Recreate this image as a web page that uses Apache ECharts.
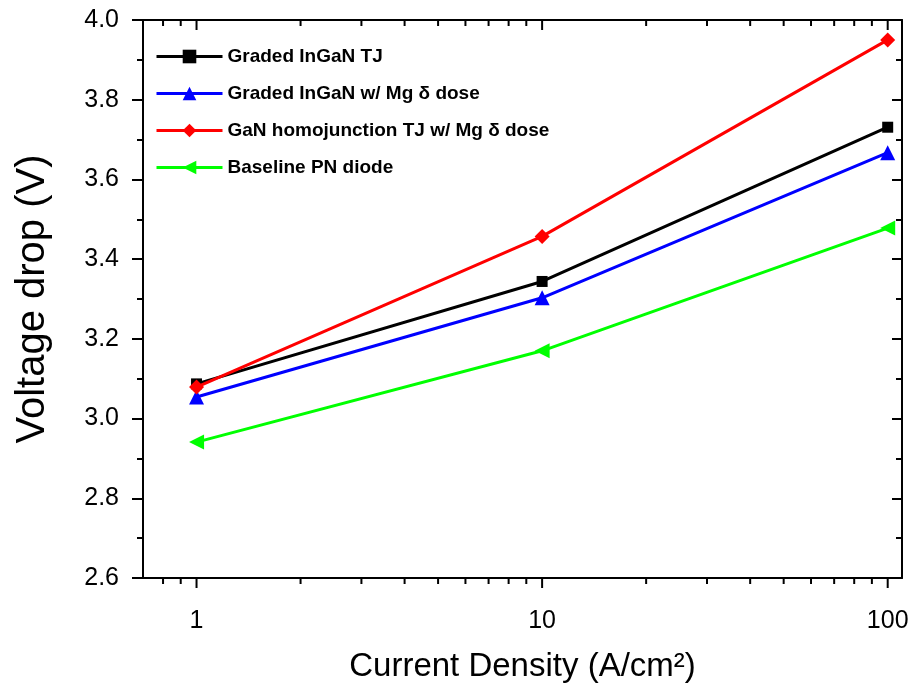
<!DOCTYPE html>
<html>
<head>
<meta charset="utf-8">
<script src="https://cdn.jsdelivr.net/npm/echarts@6/dist/echarts.min.js"></script>
<style>
html,body{margin:0;padding:0;background:#fff;}
#chart{width:914px;height:688px;}
</style>
</head>
<body>
<div id="chart"></div>
<script>
// ---- data ----
const currentDensity = [1, 10, 100];
const gradedInGaN = [3.087, 3.344, 3.731];
const gradedInGaNMg = [3.054, 3.303, 3.667];
const ganHomoMg = [3.079, 3.457, 3.950];
const baselinePN = [2.941, 3.170, 3.478];
const seriesNames = [
  'Graded InGaN TJ',
  'Graded InGaN w/ Mg \u03b4 dose',
  'GaN homojunction TJ w/ Mg \u03b4 dose',
  'Baseline PN diode'
];
const xMajorTicks = [1, 10, 100];
const xMinorTicks = [0.8, 0.9, 2, 3, 4, 5, 6, 7, 8, 9, 20, 30, 40, 50, 60, 70, 80, 90];
const xMin = 0.7, xMax = 110;
const yMin = 2.6, yMax = 4.0, yStep = 0.2;

const FONT = "'Liberation Sans', Arial, sans-serif";
const chart = echarts.init(document.getElementById('chart'), null, {renderer: 'canvas'});

function pairs(ys) { return currentDensity.map((x, i) => [x, ys[i]]); }

const tickData = xMajorTicks.map(v => [v, yMin, 1]).concat(xMinorTicks.map(v => [v, yMin, 0]));

const lineStyleBase = {width: 3};
const option = {
  animation: false,
  backgroundColor: '#fff',
  grid: {left: 143, top: 20, right: 12, bottom: 110, containLabel: false},
  legend: {
    data: seriesNames,
    orient: 'vertical',
    left: 150,
    top: 42,
    itemWidth: 66,
    itemHeight: 17,
    itemGap: 18,
    lineStyle: {width: 3},
    textStyle: {fontFamily: FONT, fontWeight: 'bold', fontSize: 19, color: '#000', lineHeight: 19}
  },
  xAxis: [{
    type: 'log', logBase: 10, min: xMin, max: xMax, position: 'bottom',
    axisLine: {show: true, onZero: false, lineStyle: {color: '#000', width: 2}},
    axisTick: {show: false},
    splitLine: {show: false},
    axisLabel: {
      showMinLabel: false, showMaxLabel: false, margin: 31,
      fontFamily: FONT, fontSize: 25, color: '#000',
      formatter: v => String(Math.round(v))
    },
    name: 'Current Density (A/cm\u00b2)',
    nameLocation: 'middle', nameGap: 72,
    nameTextStyle: {fontFamily: FONT, fontSize: 33, color: '#000'}
  }, {
    type: 'log', logBase: 10, min: xMin, max: xMax, position: 'top',
    axisLine: {show: true, onZero: false, lineStyle: {color: '#000', width: 2}},
    axisTick: {show: false}, axisLabel: {show: false}, splitLine: {show: false}
  }],
  yAxis: [{
    type: 'value', min: yMin, max: yMax, interval: yStep, position: 'left',
    axisLine: {show: true, onZero: false, lineStyle: {color: '#000', width: 2}},
    axisTick: {show: true, inside: false, length: 11, lineStyle: {color: '#000', width: 2}},
    minorTick: {show: true, splitNumber: 2, length: 6, lineStyle: {color: '#000', width: 2}},
    splitLine: {show: false},
    axisLabel: {margin: 24, fontFamily: FONT, fontSize: 25, color: '#000', formatter: v => v.toFixed(1)},
    name: 'Voltage drop (V)', nameLocation: 'middle', nameGap: 90, nameRotate: 90,
    nameTextStyle: {fontFamily: FONT, fontSize: 40, color: '#000'}
  }, {
    type: 'value', min: yMin, max: yMax, interval: yStep, position: 'right',
    axisLine: {show: true, onZero: false, lineStyle: {color: '#000', width: 2}},
    axisTick: {show: true, inside: true, length: 10, lineStyle: {color: '#000', width: 2}},
    minorTick: {show: true, splitNumber: 2, length: 6, lineStyle: {color: '#000', width: 2}},
    splitLine: {show: false}, axisLabel: {show: false}
  }],
  series: [
    {
      name: seriesNames[0], type: 'line', data: pairs(gradedInGaN),
      symbol: 'rect', symbolSize: 11,
      itemStyle: {color: '#000000'}, lineStyle: Object.assign({color: '#000000'}, lineStyleBase), z: 3
    },
    {
      name: seriesNames[1], type: 'line', data: pairs(gradedInGaNMg),
      symbol: 'triangle', symbolSize: 15,
      itemStyle: {color: '#0000ff'}, lineStyle: Object.assign({color: '#0000ff'}, lineStyleBase), z: 3
    },
    {
      name: seriesNames[2], type: 'line', data: pairs(ganHomoMg),
      symbol: 'diamond', symbolSize: 15,
      itemStyle: {color: '#ff0000'}, lineStyle: Object.assign({color: '#ff0000'}, lineStyleBase), z: 4
    },
    {
      name: seriesNames[3], type: 'line', data: pairs(baselinePN),
      symbol: 'triangle', symbolRotate: 90, symbolSize: 15,
      itemStyle: {color: '#00ff00'}, lineStyle: Object.assign({color: '#00ff00'}, lineStyleBase), z: 3
    },
    {
      name: 'xticks', type: 'custom', silent: true, clip: false, z: 5,
      xAxisIndex: 0, yAxisIndex: 0,
      data: tickData,
      encode: {x: 0, y: 1},
      renderItem: function (params, api) {
        const x = api.value(0);
        const major = api.value(2) === 1;
        const pb = api.coord([x, yMin]);
        const pt = api.coord([x, yMax]);
        const len = major ? 10 : 6;
        return {
          type: 'group',
          children: [
            {type: 'line', shape: {x1: pb[0], y1: pb[1], x2: pb[0], y2: pb[1] + len}, style: {stroke: '#000', lineWidth: 2}},
            {type: 'line', shape: {x1: pt[0], y1: pt[1], x2: pt[0], y2: pt[1] + len}, style: {stroke: '#000', lineWidth: 2}}
          ]
        };
      }
    }
  ]
};
chart.setOption(option);
</script>
</body>
</html>
